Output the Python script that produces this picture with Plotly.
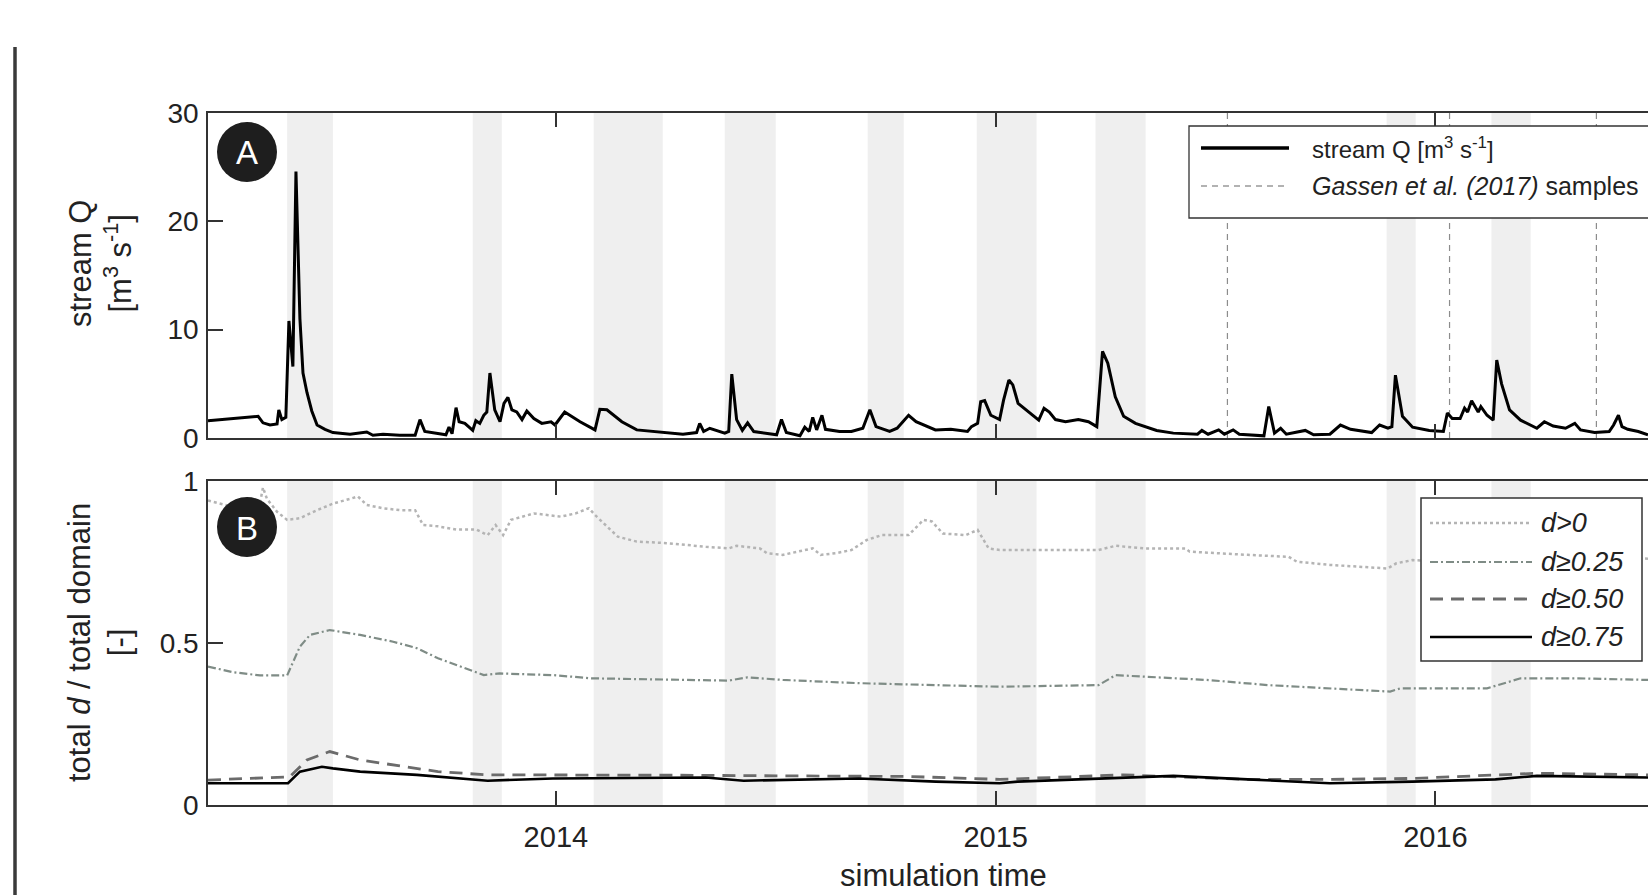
import datetime as dt
import plotly.graph_objects as go

# ---------------- data (decimal years) ----------------
q_year = [2013.209, 2013.323, 2013.334, 2013.350, 2013.366, 2013.370, 2013.377, 2013.386, 2013.393, 2013.402,
          2013.409, 2013.418, 2013.425, 2013.434, 2013.445, 2013.457, 2013.475, 2013.493, 2013.532, 2013.570,
          2013.584, 2013.607, 2013.645, 2013.680, 2013.691, 2013.702, 2013.750, 2013.757, 2013.764, 2013.773,
          2013.780, 2013.793, 2013.811, 2013.818, 2013.827, 2013.836, 2013.843, 2013.850, 2013.861, 2013.873,
          2013.882, 2013.891, 2013.900, 2013.911, 2013.923, 2013.934, 2013.950, 2013.968, 2013.989, 2013.998,
          2014.020, 2014.055, 2014.089, 2014.100, 2014.116, 2014.150, 2014.184, 2014.255, 2014.289, 2014.320,
          2014.327, 2014.336, 2014.350, 2014.384, 2014.393, 2014.400, 2014.411, 2014.424, 2014.436, 2014.450,
          2014.475, 2014.502, 2014.513, 2014.524, 2014.555, 2014.566, 2014.576, 2014.584, 2014.593, 2014.605,
          2014.613, 2014.645, 2014.672, 2014.698, 2014.714, 2014.728, 2014.759, 2014.776, 2014.802, 2014.819,
          2014.863, 2014.898, 2014.936, 2014.945, 2014.959, 2014.966, 2014.975, 2014.989, 2015.009, 2015.018,
          2015.030, 2015.039, 2015.051, 2015.070, 2015.084, 2015.098, 2015.110, 2015.122, 2015.136, 2015.159,
          2015.188, 2015.211, 2015.230, 2015.243, 2015.255, 2015.272, 2015.291, 2015.318, 2015.366, 2015.404,
          2015.459, 2015.469, 2015.483, 2015.507, 2015.520, 2015.540, 2015.554, 2015.610, 2015.621, 2015.634,
          2015.648, 2015.661, 2015.704, 2015.723, 2015.760, 2015.784, 2015.807, 2015.855, 2015.873, 2015.892,
          2015.901, 2015.909, 2015.925, 2015.948, 2015.986, 2016.018, 2016.027, 2016.038, 2016.056, 2016.066,
          2016.073, 2016.082, 2016.097, 2016.103, 2016.117, 2016.131, 2016.139, 2016.150, 2016.168, 2016.193,
          2016.230, 2016.247, 2016.267, 2016.295, 2016.316, 2016.329, 2016.361, 2016.394, 2016.404, 2016.415,
          2016.423, 2016.436, 2016.460, 2016.482]
q_value = [1.6, 2.0, 1.4, 1.2, 1.3, 2.6, 1.7, 1.9, 10.8, 6.6,
           24.6, 11.0, 6.0, 4.2, 2.5, 1.2, 0.8, 0.5, 0.35, 0.55,
           0.25, 0.35, 0.25, 0.25, 1.7, 0.6, 0.3, 1.0, 0.4, 2.8,
           1.5, 1.35, 0.7, 1.6, 1.35, 2.1, 2.4, 6.0, 2.6, 1.5,
           3.2, 3.75, 2.6, 2.4, 1.7, 2.5, 1.8, 1.35, 1.5, 1.2,
           2.4, 1.5, 0.75, 2.65, 2.6, 1.5, 0.75, 0.45, 0.35, 0.5,
           1.35, 0.6, 0.9, 0.45, 0.6, 5.9, 1.7, 0.7, 1.4, 0.6,
           0.45, 0.3, 1.7, 0.5, 0.2, 1.0, 0.6, 1.9, 0.75, 2.1,
           0.8, 0.6, 0.6, 0.9, 2.6, 1.05, 0.6, 0.9, 2.1, 1.5,
           0.75, 0.8, 0.6, 1.05, 1.35, 3.35, 3.45, 2.1, 1.7, 3.5,
           5.35, 4.9, 3.2, 2.6, 2.1, 1.65, 2.75, 2.4, 1.7, 1.5,
           1.7, 1.5, 1.05, 8.0, 6.9, 3.8, 2.0, 1.35, 0.7, 0.45,
           0.35, 0.7, 0.35, 0.75, 0.35, 0.75, 0.35, 0.2, 2.9, 0.45,
           0.9, 0.35, 0.7, 0.3, 0.35, 1.2, 0.8, 0.5, 1.2, 0.9,
           1.05, 5.8, 2.0, 1.0, 0.7, 0.6, 2.3, 1.8, 1.8, 2.75,
           2.4, 3.45, 2.4, 2.9, 2.1, 1.65, 7.2, 5.0, 2.6, 1.65,
           0.9, 1.5, 1.1, 0.9, 1.35, 0.75, 0.5, 0.6, 1.2, 2.1,
           1.05, 0.8, 0.6, 0.3]

sample_years = [2015.527, 2016.032, 2016.365]

d0_year = [2013.209, 2013.266, 2013.327, 2013.334, 2013.343, 2013.366, 2013.389, 2013.418, 2013.457, 2013.493,
           2013.550, 2013.570, 2013.607, 2013.645, 2013.680, 2013.698, 2013.732, 2013.775, 2013.819, 2013.845,
           2013.863, 2013.880, 2013.898, 2013.950, 2014.011, 2014.045, 2014.075, 2014.089, 2014.116, 2014.141,
           2014.184, 2014.255, 2014.341, 2014.393, 2014.411, 2014.464, 2014.480, 2014.516, 2014.550, 2014.584,
           2014.602, 2014.636, 2014.672, 2014.707, 2014.741, 2014.802, 2014.836, 2014.855, 2014.880, 2014.932,
           2014.959, 2014.984, 2015.009, 2015.102, 2015.234, 2015.273, 2015.339, 2015.432, 2015.441, 2015.573,
           2015.666, 2015.685, 2015.760, 2015.891, 2015.911, 2015.948, 2016.042, 2016.193, 2016.324, 2016.482]
d0_value = [0.94, 0.92, 0.93, 0.98, 0.945, 0.905, 0.88, 0.885, 0.91, 0.93,
            0.952, 0.926, 0.916, 0.91, 0.91, 0.864, 0.86, 0.85, 0.85, 0.833,
            0.864, 0.833, 0.88, 0.90, 0.89, 0.90, 0.916, 0.895, 0.86, 0.828,
            0.813, 0.808, 0.797, 0.792, 0.80, 0.792, 0.777, 0.772, 0.782, 0.792,
            0.772, 0.777, 0.787, 0.818, 0.833, 0.833, 0.88, 0.875, 0.838, 0.833,
            0.849, 0.792, 0.787, 0.787, 0.787, 0.80, 0.792, 0.792, 0.782, 0.772,
            0.766, 0.751, 0.741, 0.73, 0.746, 0.756, 0.75, 0.77, 0.77, 0.76]

d25_year = [2013.209, 2013.266, 2013.327, 2013.389, 2013.418, 2013.441, 2013.486, 2013.555, 2013.630, 2013.684,
            2013.732, 2013.802, 2013.836, 2013.872, 2013.993, 2014.080, 2014.255, 2014.393, 2014.436, 2014.516,
            2014.689, 2014.864, 2015.009, 2015.234, 2015.273, 2015.339, 2015.480, 2015.620, 2015.760, 2015.897,
            2015.920, 2016.042, 2016.117, 2016.193, 2016.324, 2016.482]
d25_value = [0.427, 0.41, 0.40, 0.40, 0.489, 0.525, 0.54, 0.525, 0.504, 0.484,
             0.453, 0.417, 0.401, 0.406, 0.401, 0.391, 0.388, 0.384, 0.394, 0.386,
             0.376, 0.370, 0.365, 0.37, 0.401, 0.396, 0.386, 0.370, 0.360, 0.35,
             0.36, 0.36, 0.36, 0.391, 0.391, 0.386]

d50_year = [2013.209, 2013.395, 2013.434, 2013.486, 2013.555, 2013.684, 2013.732, 2013.845, 2013.993, 2014.255,
            2014.516, 2014.802, 2015.009, 2015.291, 2015.573, 2015.760, 2015.948, 2016.230, 2016.482]
d50_value = [0.077, 0.087, 0.139, 0.165, 0.139, 0.113, 0.103, 0.093, 0.093, 0.092,
             0.09, 0.088, 0.079, 0.093, 0.079, 0.079, 0.082, 0.098, 0.093]

d75_year = [2013.209, 2013.391, 2013.418, 2013.468, 2013.493, 2013.555, 2013.684, 2013.845, 2013.993, 2014.341,
            2014.427, 2014.689, 2014.864, 2015.009, 2015.050, 2015.404, 2015.573, 2015.760, 2015.948, 2016.136,
            2016.230, 2016.482]
d75_value = [0.067, 0.067, 0.103, 0.118, 0.113, 0.103, 0.093, 0.075, 0.082, 0.085,
             0.075, 0.082, 0.072, 0.067, 0.072, 0.09, 0.079, 0.067, 0.072, 0.079,
             0.09, 0.085]

band_start = [2013.389, 2013.811, 2014.086, 2014.384, 2014.709, 2014.957, 2015.227, 2015.889, 2016.127]
band_end = [2013.493, 2013.877, 2014.243, 2014.500, 2014.791, 2015.093, 2015.341, 2015.955, 2016.216]

x_range_years = [2013.209, 2016.482]
year_ticks = [2014, 2015, 2016]
year_tick_labels = ["2014", "2015", "2016"]


def to_date(y):
    yr = int(y)
    a = dt.datetime(yr, 1, 1)
    b = dt.datetime(yr + 1, 1, 1)
    return a + (y - yr) * (b - a)


def dates(vals):
    return [to_date(v) for v in vals]


# ---------------- layout geometry (pixels -> paper) ----------------
W, H = 1648, 895
ML, MR, MT, MB = 208, 0, 113, 90


def px(x):
    return (x - ML) / (W - ML - MR)


def py(y):
    return (H - MB - y) / (H - MT - MB)


FONT = "Liberation Sans, Arial, Helvetica, sans-serif"
INK = "#222222"
AX = "#333333"

fig = go.Figure()

# sample lines (panel A)
sx, sy = [], []
for s in sample_years:
    sx += [to_date(s), to_date(s), None]
    sy += [0, 30, None]
fig.add_trace(go.Scatter(x=sx, y=sy, mode="lines", xaxis="x", yaxis="y",
                         line=dict(color="#8c8c8c", width=1.2, dash="6px,5px"),
                         name="Gassen et al. (2017) samples", showlegend=False, hoverinfo="skip"))
fig.add_trace(go.Scatter(x=dates(q_year), y=q_value, mode="lines", xaxis="x", yaxis="y",
                         line=dict(color="#000000", width=3.0), name="stream Q", showlegend=False))

fig.add_trace(go.Scatter(x=dates(d0_year), y=d0_value, mode="lines", xaxis="x2", yaxis="y2",
                         line=dict(color="#b4b4b4", width=2.5, dash="dot"), name="d>0", showlegend=False))
fig.add_trace(go.Scatter(x=dates(d25_year), y=d25_value, mode="lines", xaxis="x2", yaxis="y2",
                         line=dict(color="#7f8c86", width=2.2, dash="8px,3px,2px,3px"),
                         name="d≥0.25", showlegend=False))
fig.add_trace(go.Scatter(x=dates(d50_year), y=d50_value, mode="lines", xaxis="x2", yaxis="y2",
                         line=dict(color="#6b6b6b", width=2.8, dash="13px,8px"), name="d≥0.50", showlegend=False))
fig.add_trace(go.Scatter(x=dates(d75_year), y=d75_value, mode="lines", xaxis="x2", yaxis="y2",
                         line=dict(color="#000000", width=2.6), name="d≥0.75", showlegend=False))

shapes = []
# shaded seasons in both panels
for a, b in zip(band_start, band_end):
    for xr, yr in (("x", "y domain"), ("x2", "y2 domain")):
        shapes.append(dict(type="rect", xref=xr, yref=yr, x0=to_date(a), x1=to_date(b), y0=0, y1=1,
                           fillcolor="#efefef", line=dict(width=0), layer="below"))

# left frame bar
shapes.append(dict(type="line", xref="paper", yref="paper", x0=px(15), x1=px(15), y0=py(47), y1=py(900),
                   line=dict(color="#3a3a3a", width=3.5)))

# panel badges
for cy in (152, 527):
    shapes.append(dict(type="circle", xref="paper", yref="paper", x0=px(217), x1=px(277),
                       y0=py(cy + 30), y1=py(cy - 30), fillcolor="#1e1e1e", line=dict(width=0)))

# legend A
shapes.append(dict(type="rect", xref="paper", yref="paper", x0=px(1189), x1=px(1700), y0=py(218), y1=py(126),
                   fillcolor="white", line=dict(color=AX, width=1.3), layer="above"))
shapes.append(dict(type="line", xref="paper", yref="paper", x0=px(1201), x1=px(1289), y0=py(148), y1=py(148),
                   line=dict(color="#000000", width=3.5), layer="above"))
shapes.append(dict(type="line", xref="paper", yref="paper", x0=px(1201), x1=px(1289), y0=py(186), y1=py(186),
                   line=dict(color="#999999", width=1.3, dash="6px,5px"), layer="above"))

# legend B
shapes.append(dict(type="rect", xref="paper", yref="paper", x0=px(1421), x1=px(1642), y0=py(661), y1=py(498),
                   fillcolor="white", line=dict(color=AX, width=1.5), layer="above"))
legB = [(523, "#b4b4b4", 2.5, "dot"), (562, "#7f8c86", 2.2, "8px,3px,2px,3px"),
        (599, "#6b6b6b", 2.8, "13px,8px"), (637, "#000000", 2.6, "solid")]
for yy, c, w, d in legB:
    shapes.append(dict(type="line", xref="paper", yref="paper", x0=px(1430), x1=px(1532), y0=py(yy), y1=py(yy),
                       line=dict(color=c, width=w, dash=d), layer="above"))

annotations = [
    dict(text="A", x=px(247), y=py(153), xref="paper", yref="paper", showarrow=False,
         font=dict(size=33, color="white", family=FONT), xanchor="center", yanchor="middle"),
    dict(text="B", x=px(247), y=py(528), xref="paper", yref="paper", showarrow=False,
         font=dict(size=33, color="white", family=FONT), xanchor="center", yanchor="middle"),
    dict(text="stream Q<br>[m<sup>3</sup> s<sup>-1</sup>]", x=px(100), y=py(264), xref="paper", yref="paper",
         showarrow=False, textangle=-90, font=dict(size=31, color=INK, family=FONT),
         xanchor="center", yanchor="middle"),
    dict(text="total <i>d</i> / total domain<br>[-]", x=px(99), y=py(643), xref="paper", yref="paper",
         showarrow=False, textangle=-90, font=dict(size=31, color=INK, family=FONT),
         xanchor="center", yanchor="middle"),
    dict(text="simulation time", x=px(943), y=py(875), xref="paper", yref="paper", showarrow=False,
         font=dict(size=31, color=INK, family=FONT), xanchor="center", yanchor="middle"),
    dict(text="stream Q [m<sup>3</sup> s<sup>-1</sup>]", x=px(1310), y=py(148), xref="paper", yref="paper",
         showarrow=False, font=dict(size=24, color=INK, family=FONT), xanchor="left", yanchor="middle"),
    dict(text="<i>Gassen et al. (2017)</i> samples", x=px(1310), y=py(186), xref="paper", yref="paper",
         showarrow=False, font=dict(size=25, color=INK, family=FONT), xanchor="left", yanchor="middle"),
]
for yy, t in zip((523, 562, 599, 637), ("d>0", "d≥0.25", "d≥0.50", "d≥0.75")):
    annotations.append(dict(text="<i>" + t + "</i>", x=px(1539), y=py(yy), xref="paper", yref="paper",
                            showarrow=False, font=dict(size=27, color=INK, family=FONT),
                            xanchor="left", yanchor="middle"))

xr = [to_date(x_range_years[0]), to_date(x_range_years[1])]
tickdates = [to_date(y) for y in year_ticks]
xcommon = dict(range=xr, tickvals=tickdates, ticktext=year_tick_labels, ticks="inside", ticklen=14,
               tickwidth=1.5, tickcolor=AX, showline=True, linecolor=AX, linewidth=1.5, mirror="ticks",
               showgrid=False, zeroline=False, tickfont=dict(size=29, color=INK, family=FONT))
ycommon = dict(ticks="inside", ticklen=15, tickwidth=1.5, tickcolor=AX, showline=True, linecolor=AX,
               linewidth=1.5, mirror=False, showgrid=False, zeroline=False,
               tickfont=dict(size=28, color=INK, family=FONT), ticklabelstandoff=2)

A_BOTTOM = py(438)
B_TOP = py(481)

fig.update_layout(
    width=W, height=H, autosize=False,
    margin=dict(l=ML, r=MR, t=MT, b=MB, pad=0),
    paper_bgcolor="white", plot_bgcolor="white",
    showlegend=False, hovermode=False,
    font=dict(family=FONT, color=INK),
    xaxis=dict(domain=[0, 1], anchor="y", showticklabels=False, **xcommon),
    xaxis2=dict(domain=[0, 1], anchor="y2", matches="x", showticklabels=True, ticklabelstandoff=5, **xcommon),
    yaxis=dict(domain=[A_BOTTOM, 1], anchor="x", range=[0, 30], tickvals=[0, 10, 20, 30], **ycommon),
    yaxis2=dict(domain=[0, B_TOP], anchor="x2", range=[0, 1], tickvals=[0, 0.5, 1],
                ticktext=["0", "0.5", "1"], **ycommon),
    shapes=shapes,
    annotations=annotations,
)

fig.write_html("out.html", config={"displayModeBar": False},
               post_script="document.body.style.margin='0';document.body.style.overflow='hidden';")
